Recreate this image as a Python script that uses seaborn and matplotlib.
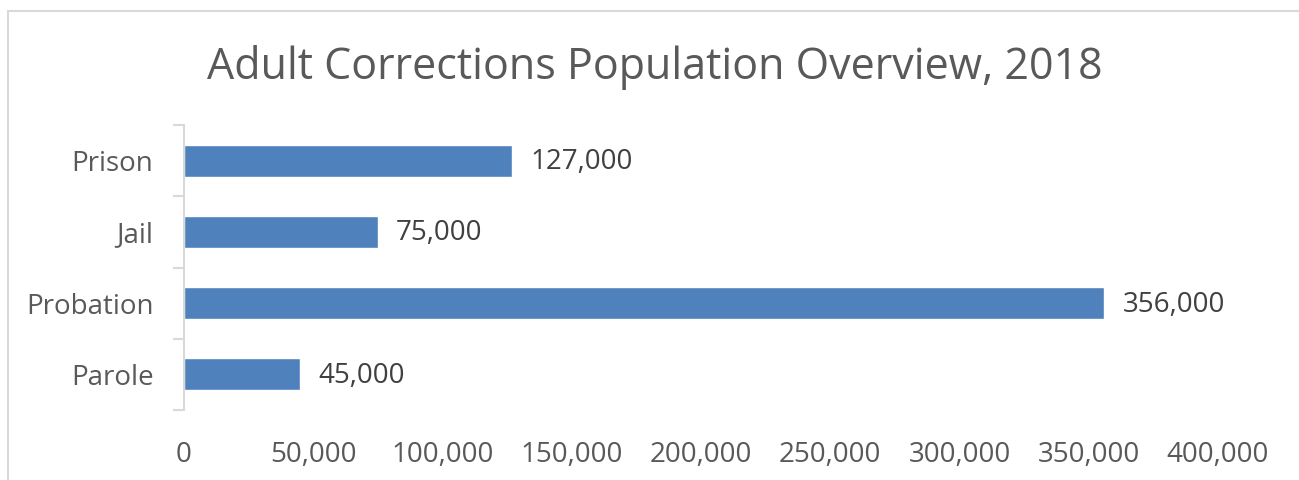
import matplotlib
matplotlib.use('Agg')
import matplotlib.pyplot as plt
import matplotlib.ticker as mticker
from matplotlib.patches import Rectangle
import pandas as pd
import seaborn as sns

# Dados do gráfico
categorias = ['Prison', 'Jail', 'Probation', 'Parole']
populacao = [127000, 75000, 356000, 45000]
x_ticks = [0, 50000, 100000, 150000, 200000, 250000, 300000, 350000, 400000]
titulo = 'Adult Corrections Population Overview, 2018'

df = pd.DataFrame({'categoria': categorias, 'populacao': populacao})

sns.set_style('white')
plt.rcParams['font.family'] = ['Open Sans', 'DejaVu Sans']

fig = plt.figure(figsize=(12.99, 4.8), dpi=100)
ax = fig.add_axes([184/1299, 1-410/480, (1218-184)/1299, (410-125)/480])

sns.barplot(data=df, x='populacao', y='categoria', orient='h',
            color='#4F81BD', saturation=1, width=0.45, ax=ax)

ax.set_xlim(0, 400000)
ax.set_ylim(3.5, -0.5)
ax.set_xticks(x_ticks)
ax.xaxis.set_major_formatter(mticker.FuncFormatter(lambda v, p: f'{int(v):,}'))
ax.tick_params(axis='x', length=0, pad=22.5, labelsize=20, labelcolor='#595959')
ax.tick_params(axis='y', which='major', left=False, length=0, pad=22,
               labelsize=20, labelcolor='#595959')
ax.set_yticks([-0.5, 0.5, 1.5, 2.5, 3.5], minor=True)
ax.tick_params(axis='y', which='minor', left=True, direction='out', length=8,
               width=1.5, color='#D9D9D9')
ax.set_xlabel('')
ax.set_ylabel('')

for s in ['top', 'right', 'bottom']:
    ax.spines[s].set_visible(False)
ax.spines['left'].set_color('#D9D9D9')
ax.spines['left'].set_linewidth(1.5)

# Rótulos de valor ao lado de cada barra
for i, v in enumerate(populacao):
    ax.annotate(f'{v:,}', (v, i), xytext=(13, -1), textcoords='offset points',
                ha='left', va='center', fontsize=20, color='#404040')

fig.text(655/1299, 1-67/480, titulo, ha='center', va='center',
         fontsize=31, color='#595959')

# Borda do gráfico
fig.patches.append(Rectangle((8/1299, -0.1), 1.2, 1-11/480+0.1,
                             transform=fig.transFigure, fill=False,
                             edgecolor='#D9D9D9', linewidth=1.5))

fig.savefig('out.png', dpi=100)
